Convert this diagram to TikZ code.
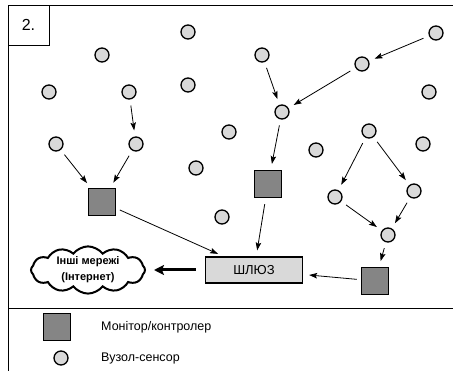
\documentclass[tikz,border=0pt]{standalone}
\usepackage{fontspec}
\setmainfont{Liberation Sans}
\usetikzlibrary{shapes.symbols,arrows.meta}
\definecolor{nodegray}{HTML}{D9D9D9}
\definecolor{ctrlgray}{HTML}{858585}
\tikzset{
  sensor/.style={circle,draw=black,line width=1.3pt,fill=nodegray,minimum size=14pt,inner sep=0pt},
  monitor/.style={rectangle,draw=black,line width=1.3pt,fill=ctrlgray,minimum size=27pt,inner sep=0pt},
  gateway/.style={rectangle,draw=black,line width=1.3pt,fill=nodegray,minimum width=97pt,minimum height=26pt,inner sep=0pt,font=\fontsize{13}{15}\selectfont},
  link/.style={line width=0.8pt,-{Stealth[length=8pt,width=5.5pt,inset=1.5pt]},shorten >=6pt,shorten <=6pt},
  uplink/.style={line width=3pt,-{Stealth[length=10pt,width=10pt,inset=2pt]}},
  frame/.style={line width=1pt,draw=black},
  legendtext/.style={anchor=west,inner sep=0pt,font=\fontsize{12.5}{14}\selectfont}
}
\begin{document}
\begin{tikzpicture}[x=1pt,y=-1pt]
\useasboundingbox (0,0) rectangle (453,371);
% outer frame
\draw[frame] (453,6) -- (8.5,6) -- (8.5,371);
\draw[frame] (8.5,309) -- (453,309);
\draw[frame] (8.5,45.5) -- (49,45.5) -- (49,6);
\node[font=\fontsize{16}{18}\selectfont] (num) at (28.5,25) {2.};

% sensor nodes
\node[sensor] (s1) at (188,32) {};
\node[sensor] (s2) at (102,55) {};
\node[sensor] (s3) at (49,92) {};
\node[sensor] (s4) at (129,92) {};
\node[sensor] (s5) at (188,85) {};
\node[sensor] (s6) at (56,144) {};
\node[sensor] (s7) at (136,144) {};
\node[sensor] (s8) at (229,132) {};
\node[sensor] (s9) at (436,33) {};
\node[sensor] (s10) at (262,55) {};
\node[sensor] (s11) at (362,64) {};
\node[sensor] (s12) at (429,92) {};
\node[sensor] (s13) at (282,112) {};
\node[sensor] (s14) at (369,131) {};
\node[sensor] (s15) at (316,150) {};
\node[sensor] (s16) at (423,144) {};
\node[sensor] (s17) at (196,168) {};
\node[sensor] (s18) at (222,217) {};
\node[sensor] (s19) at (335,197) {};
\node[sensor] (s20) at (414,191) {};
\node[sensor] (s21) at (388,235) {};

% monitors / controllers
\node[monitor] (m1) at (102,202) {};
\node[monitor] (m2) at (268,184) {};
\node[monitor] (m3) at (375,281) {};

% gateway and external network
\node[gateway] (gw) at (254,270) {ШЛЮЗ};
\node[cloud,cloud ignores aspect,draw=black,line width=2pt,fill=white,cloud puffs=12,cloud puff arc=105,
      minimum width=114pt,minimum height=47pt,inner sep=0pt,align=center,
      font=\bfseries\fontsize{11}{16}\selectfont] (net) at (88,270) {Інші мережі\\(Інтернет)};

% data flow
\draw[link] (s4) -- (s7);
\draw[link] (s6) -- (m1);
\draw[link] (s7) -- (m1);
\draw[link,shorten <=4pt] (m1) -- (gw);
\draw[link] (s10) -- (s13);
\draw[link] (s9) -- (s11);
\draw[link] (s11) -- (s13);
\draw[link] (s13) -- (m2);
\draw[link] (m2) -- (gw);
\draw[link] (s14) -- (s19);
\draw[link] (s14) -- (s20);
\draw[link] (s19) -- (s21);
\draw[link] (s20) -- (s21);
\draw[link] (s21) -- (m3);
\draw[link,shorten <=4pt] (m3) -- (gw);
\draw[uplink] ([xshift=-9pt]gw.west) -- ([xshift=8pt]net.east);

% legend
\node[monitor] (lm) at (57,327) {};
\node[sensor] (ls) at (61,358) {};
\node[legendtext] (lmt) at (101,327) {Монітор/контролер};
\node[legendtext] (lst) at (101,358) {Вузол-сенсор};
\end{tikzpicture}
\end{document}
